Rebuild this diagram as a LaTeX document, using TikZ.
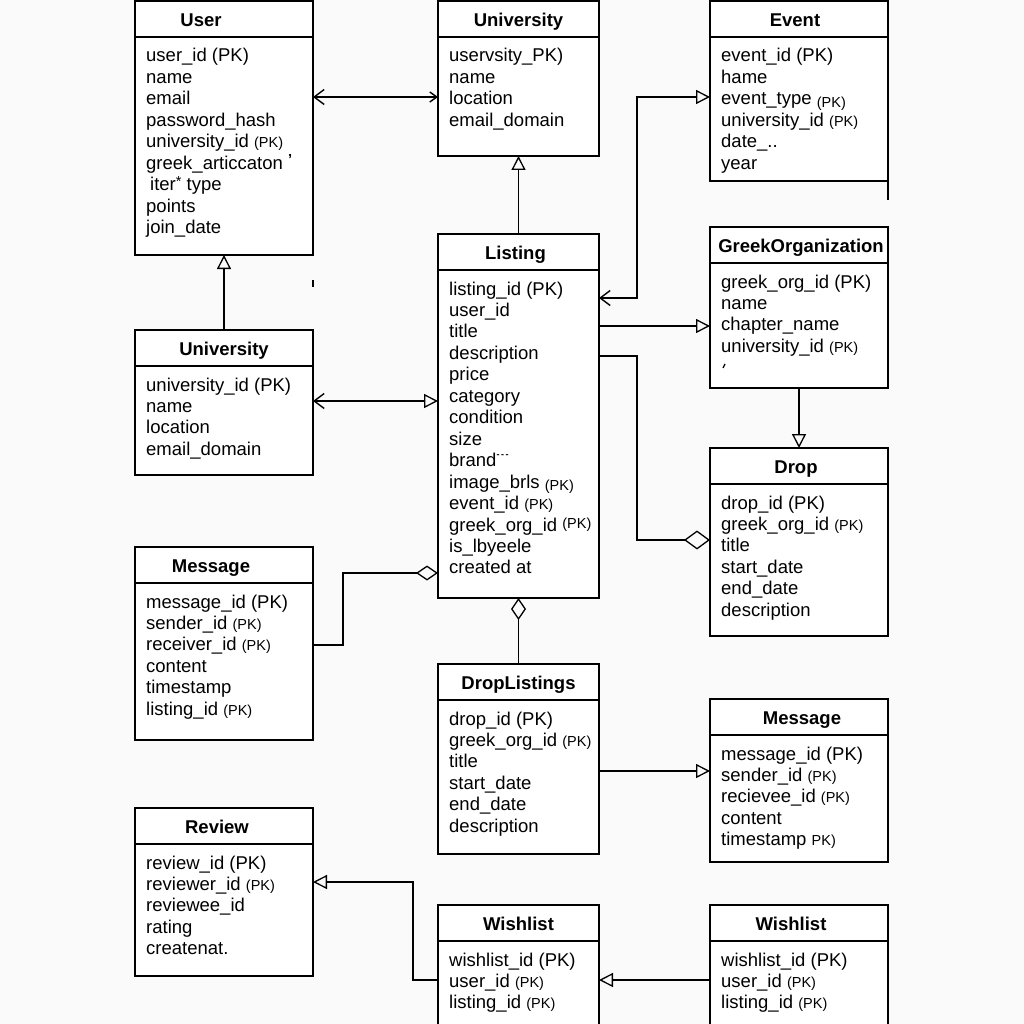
\documentclass[tikz,border=0pt]{standalone}
\usepackage{fontspec}
\setmainfont{Liberation Sans}
\usetikzlibrary{arrows.meta}
\definecolor{paper}{RGB}{250,250,250}
% smaller, secondary key markers
\newcommand\sm[1]{{\fontsize{14.5}{14.5}\selectfont #1}}
\tikzset{
  ebox/.style={draw, line width=1.4pt, fill=white, inner sep=0pt, outer sep=0pt, anchor=north west},
  eline/.style={line width=1.2pt},
  etitle/.style={font=\fontsize{18.5}{21}\selectfont\bfseries, inner sep=0pt, anchor=base},
  eattr/.style={font=\fontsize{18.5}{21}\selectfont, inner sep=0pt, anchor=base west},
  conn/.style={line width=1.4pt},
  otri/.tip={Triangle[open, length=14pt, width=14pt, line width=1.3pt]},
  vee/.tip={Straight Barb[length=10pt, width=15pt, line width=1.4pt]},
  smallvee/.tip={Straight Barb[length=7pt, width=10pt, line width=1.4pt]},
  odia/.tip={Diamond[open, length=22pt, width=15pt, line width=1.3pt]},
  bigdia/.tip={Diamond[open, length=26pt, width=19pt, line width=1.3pt]},
}
% entity box: name, left, top, right, bottom, title, title x offset, attribute rows
\newcommand\entity[8]{%
  \node[ebox, minimum width={(#4-#2)*1pt}, minimum height={(#5-#3)*1pt}] (#1) at (#2,#3) {};
  \draw[eline] ([yshift=-36pt]#1.north west) -- ([yshift=-36pt]#1.north east);
  \node[etitle] (#1-title) at ([xshift=#7pt,yshift=-25.5pt]#1.north) {#6};
  \foreach \a [count=\i] in {#8} {%
    \node[eattr] (#1-row\i) at ([xshift=11pt,yshift={-61pt-(\i-1)*21.46pt}]#1.north west) {\a};}%
}
\begin{document}
\begin{tikzpicture}[x=1pt,y=-1pt]
\useasboundingbox (0,0) rectangle (1024,1024);
\fill[paper] (0,0) rectangle (1024,1024);

% ---- tables ----
\entity{user}{135}{1}{313}{255}{User}{-23}{user\_id (PK),name,email,password\_hash,university\_id \sm{(PK)},greek\_articcaton \raisebox{5pt}{\sm{\textbf{'}}},\hspace{4pt}iter\raisebox{4pt}{\sm{*}} type,points,join\_date}
\entity{univA}{438}{1}{599}{156}{University}{0}{uservsity\_PK),name,location,email\_domain}
\entity{event}{710}{1}{888}{181}{Event}{-4}{event\_id (PK),hame,event\_type \raisebox{-3pt}{\sm{(PK)}},university\_id \sm{(PK)},date\_..,year}
\entity{listing}{438}{234}{599}{598}{Listing}{-3}{listing\_id (PK),user\_id,title,description,price,category,condition,size,brand\raisebox{9pt}{\fontsize{9}{9}\selectfont\textbf{-\,-\,-}},image\_brls \raisebox{-2pt}{\sm{(PK)}},event\_id \sm{(PK)},greek\_org\_id \raisebox{3pt}{\sm{(PK)}},is\_lbyeele,created at}
\entity{greek}{710}{227}{888}{388}{GreekOrganization}{2}{greek\_org\_id (PK),name,chapter\_name,university\_id \sm{(PK)}}
\entity{univB}{135}{330}{313}{475}{University}{0}{university\_id (PK),name,location,email\_domain}
\entity{drop}{710}{448}{888}{636}{Drop}{-3}{drop\_id (PK),greek\_org\_id \sm{(PK)},title,start\_date,end\_date,description}
\entity{msgA}{135}{547}{313}{740}{Message}{-13}{message\_id (PK),sender\_id \sm{(PK)},receiver\_id \sm{(PK)},content,timestamp,listing\_id \sm{(PK)}}
\entity{droplist}{438}{664}{599}{854}{DropListings}{0}{drop\_id (PK),greek\_org\_id \sm{(PK)},title,start\_date,end\_date,description}
\entity{msgB}{710}{699}{888}{862}{Message}{3}{message\_id (PK),sender\_id \sm{(PK)},recievee\_id \sm{(PK)},content,timestamp \sm{PK)}}
\entity{review}{135}{808}{313}{976}{Review}{-7}{review\_id (PK),reviewer\_id \sm{(PK)},reviewee\_id,rating,createnat.}
\entity{wishA}{438}{905}{599}{1032}{Wishlist}{0}{wishlist\_id (PK),user\_id \sm{(PK)},listing\_id \sm{(PK)}}
\entity{wishB}{710}{905}{888}{1032}{Wishlist}{-8}{wishlist\_id (PK),user\_id \sm{(PK)},listing\_id \sm{(PK)}}

% small stray strokes
\draw[line width=1.2pt] (event.south east) -- ++(0,19);
\draw[line width=1.2pt] (greek.west |- 0,364) ++(15,0) -- ++(-2,4);
\draw[line width=1.2pt] (user.south east |- 0,280) -- ++(0,7);

% ---- relationships ----
\draw[conn, {vee}-{smallvee}] (user.east |- 0,97) -- (univA.west |- 0,97);
\draw[conn, -{otri}] (listing.north) -- (univA.south);
\draw[conn, {vee}-{otri}] (listing.east |- 0,298) -- (637,298) -- (637,97) -- (event.west |- 0,97);
\draw[conn, -{otri}] (listing.east |- 0,326) -- (greek.west |- 0,326);
\draw[conn, -{bigdia}] (listing.east |- 0,356) -- (637,356) -- (637,540) -- (drop.west |- 0,540);
\draw[conn, -{otri}] (greek.south) -- (drop.north);
\draw[conn, -{otri}] (univB.north) -- (user.south);
\draw[conn, {vee}-{otri}] (univB.east |- 0,401) -- (listing.west |- 0,401);
\draw[conn, -{odia}] (msgA.east |- 0,645) -- (343,645) -- (343,573) -- (listing.west |- 0,573);
\draw[conn, -{odia}] (droplist.north) -- (listing.south);
\draw[conn, -{otri}] (droplist.east |- 0,771) -- (msgB.west |- 0,771);
\draw[conn, -{otri}] (wishA.west |- 0,980) -- (413,980) -- (413,882) -- (review.east |- 0,882);
\draw[conn, -{otri}] (wishB.west |- 0,980) -- (wishA.east |- 0,980);
\end{tikzpicture}
\end{document}
